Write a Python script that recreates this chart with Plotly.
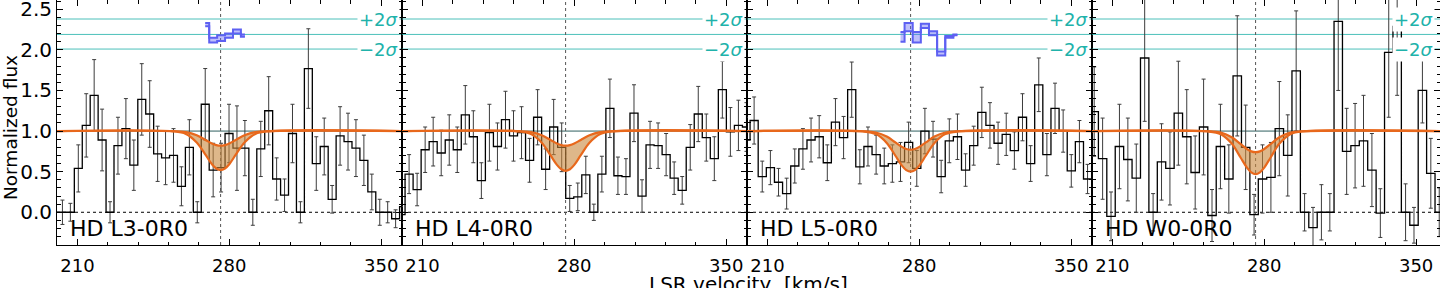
import numpy as np
import plotly.graph_objects as go

# ---------------- data ----------------
panel_labels = ["HD L3-0R0", "HD L4-0R0", "HD L5-0R0", "HD W0-0R0"]

# spectral pixel grid of each panel: first bin edge and bin width [km/s]
bin_start = [197.62, 198.31, 198.26, 199.67]
bin_width = [3.656, 3.702, 3.748, 3.879]

flux_L3 = [0.0, 0.0, 0.0, 0.54, 1.07, 1.44, 0.89, 0.0, 0.82, 1.03, 0.58, 1.39, 1.21, 0.72, 0.67,
           0.70, 0.32, 0.80, 0.0, 1.33, 0.52, 0.55, 0.97, 0.79, 0.79, 0.0, 0.78, 1.25, 0.41, 0.21,
           0.97, 0.0, 1.77, 0.60, 0.81, 0.16, 0.94, 0.87, 0.79, 0.64, 0.25, 0.0, 0.0, -0.08, 0.07]
err_L3 = [0.15, 0.15, 0.11, 0.29, 0.39, 0.44, 0.38, 0.13, 0.35, 0.37, 0.31, 0.44, 0.41, 0.34, 0.33,
          0.33, 0.24, 0.34, 0.13, 0.44, 0.33, 0.30, 0.36, 0.52, 0.34, 0.16, 0.34, 0.42, 0.26, 0.20,
          0.36, 0.13, 0.49, 0.33, 0.35, 0.17, 0.36, 0.35, 0.35, 0.31, 0.22, 0.16, 0.13, 0.11, 0.15]

flux_L4 = [-0.03, 0.47, 0.28, 0.77, 0.87, 0.73, 0.89, 0.77, 1.20, 0.93, 0.39, 0.98, 0.81, 1.14, 0.94,
           0.98, 0.64, 1.17, 0.53, 1.05, 0.80, 0.17, 0.19, 0.46, 0.0, 0.47, 1.28, 0.45, 0.44, 1.22,
           0.20, 0.83, 0.82, 0.71, 0.42, 0.27, 0.80, 1.21, 0.92, 0.66, 1.51, 0.99, 1.07, 1.05]
err_L4 = [0.10, 0.24, 0.20, 0.28, 0.30, 0.28, 0.31, 0.28, 0.36, 0.32, 0.22, 0.35, 0.29, 0.35, 0.31,
          0.32, 0.27, 0.34, 0.25, 0.34, 0.30, 0.16, 0.17, 0.23, 0.10, 0.22, 0.36, 0.23, 0.22, 0.35,
          0.20, 0.29, 0.28, 0.26, 0.20, 0.17, 0.28, 0.34, 0.29, 0.27, 0.35, 0.30, 0.31, 0.30]

flux_L5 = [0.89, 1.13, 0.44, 0.55, 0.37, 0.23, 0.57, 0.78, 0.89, 0.93, 0.61, 1.11, 0.92, 1.51, 0.56,
           0.81, 0.71, 0.57, 0.60, 0.62, 0.86, 0.54, 1.00, 0.90, 0.44, 0.88, 0.93, 0.52, 0.82, 1.23,
           1.07, 0.85, 0.96, 0.76, 1.17, 0.60, 1.57, 0.71, 1.28, 1.00, 0.51, 0.87, 0.41, 0.57]
err_L5 = [0.28, 0.29, 0.19, 0.21, 0.17, 0.19, 0.21, 0.25, 0.27, 0.26, 0.22, 0.29, 0.26, 0.34, 0.21,
          0.24, 0.24, 0.22, 0.23, 0.24, 0.25, 0.22, 0.28, 0.22, 0.20, 0.27, 0.28, 0.20, 0.24, 0.31,
          0.28, 0.26, 0.26, 0.23, 0.29, 0.22, 0.33, 0.26, 0.31, 0.26, 0.20, 0.26, 0.18, 0.20]

flux_W0 = [1.24, 0.66, -0.05, 0.81, 0.65, 0.42, 1.90, 0.0, 0.62, 0.54, 1.22, 0.93, 0.49, 1.05, -0.04,
           0.81, 0.41, 1.68, 0.80, -0.03, 0.41, 0.43, 1.03, 0.70, 1.74, 0.0, -0.19, 0.0, 0.0, 2.35,
           0.75, 0.82, 0.88, 0.52, -0.01, 1.97, 2.29, 0.0, -0.16, 1.50, 0.48, 0.0]
err_W0 = [0.55, 0.50, 0.30, 0.52, 0.51, 0.42, 0.78, 0.23, 0.47, 0.45, 0.64, 0.58, 0.45, 0.59, 0.32,
          0.52, 0.42, 0.74, 0.52, 0.25, 0.42, 0.43, 0.58, 0.50, 0.74, 0.23, 0.25, 0.34, 0.23, 0.85,
          0.53, 0.52, 0.56, 0.45, 0.30, 0.80, 0.85, 0.35, 0.22, 0.40, 0.43, 0.30]

# absorption model band (upper / lower envelope)
model_v = [200, 254, 260, 265, 269, 272, 274, 276, 278, 280, 283, 287, 292, 298, 362]
model_hi_L3 = [1, 0.999, 0.987, 0.948, 0.891, 0.847, 0.827, 0.82, 0.827, 0.847, 0.891, 0.948, 0.987, 0.999, 1]
model_lo_L3 = [1, 0.997, 0.965, 0.860, 0.709, 0.592, 0.539, 0.52, 0.539, 0.592, 0.709, 0.860, 0.965, 0.997, 1]
model_hi_L4 = [1, 0.999, 0.987, 0.948, 0.891, 0.847, 0.827, 0.82, 0.827, 0.847, 0.891, 0.948, 0.987, 0.999, 1]
model_lo_L4 = [1, 0.997, 0.964, 0.857, 0.703, 0.584, 0.530, 0.51, 0.530, 0.584, 0.703, 0.857, 0.964, 0.997, 1]
model_hi_L5 = [1, 0.998, 0.983, 0.933, 0.860, 0.805, 0.779, 0.77, 0.779, 0.805, 0.860, 0.933, 0.983, 0.998, 1]
model_lo_L5 = [1, 0.996, 0.963, 0.854, 0.696, 0.575, 0.520, 0.50, 0.520, 0.575, 0.696, 0.854, 0.963, 0.996, 1]
model_hi_W0 = [1, 0.998, 0.981, 0.924, 0.842, 0.779, 0.750, 0.74, 0.750, 0.779, 0.842, 0.924, 0.981, 0.998, 1]
model_lo_W0 = [1, 0.996, 0.961, 0.846, 0.678, 0.550, 0.491, 0.47, 0.491, 0.550, 0.678, 0.846, 0.961, 0.996, 1]

# blue significance steps (only L3 and L5)
blue_v_L3 = [268.9, 272.6, 276.2, 279.9, 283.5, 287.2]
blue_hi_L3 = [2.33, 2.15, 2.18, 2.20, 2.25, 2.19]
blue_lo_L3 = [2.29, 2.09, 2.11, 2.15, 2.20, 2.16]
blue_v_L5 = [271.35, 275.10, 278.85, 282.59, 286.34, 290.09, 293.84, 297.59]
blue_hi_L5 = [2.22, 2.33, 2.22, 2.32, 2.23, 1.98, 2.17, 2.19]
blue_lo_L5 = [2.10, 2.23, 2.09, 2.27, 2.18, 1.93, 2.15, 2.18]

sig_plus, sig_mid, sig_minus = 2.38, 2.19, 2.01
v_center = 276.0

x_ticks = [210, 280, 350]
y_ticks = [0.0, 0.5, 1.0, 1.5, 2.0, 2.5]

# ---------------- figure ----------------
fluxes = [flux_L3, flux_L4, flux_L5, flux_W0]
errs = [err_L3, err_L4, err_L5, err_W0]
model_hi = [model_hi_L3, model_hi_L4, model_hi_L5, model_hi_W0]
model_lo = [model_lo_L3, model_lo_L4, model_lo_L5, model_lo_W0]
blues = {0: (blue_v_L3, blue_hi_L3, blue_lo_L3), 2: (blue_v_L5, blue_hi_L5, blue_lo_L5)}

FONT = "DejaVu Sans"
PW = 1383.0
doms = [(0, 345 / PW), (345 / PW, 690 / PW), (690 / PW, 1035 / PW), (1035 / PW, 1.0)]
xranges = [[200.6, 359.6], [200.6, 359.6], [200.6, 359.6], [200.6, 361.0]]
yrange = [-0.403, 2.614]

ORANGE = "#e8681c"
TEAL = "#20b2aa"

fig = go.Figure()
shapes = []
annotations = []

for i in range(4):
    sx = "" if i == 0 else str(i + 1)
    xa, ya = "x" + sx, "y" + sx
    fl = np.array(fluxes[i])
    n = len(fl)
    edges = bin_start[i] + bin_width[i] * np.arange(n + 1)
    centers = 0.5 * (edges[:-1] + edges[1:])

    # error bars
    fig.add_trace(go.Scatter(
        x=centers, y=fl, mode="markers", xaxis=xa, yaxis=ya,
        marker=dict(size=1, color="rgba(0,0,0,0)"),
        error_y=dict(type="data", array=errs[i], visible=True, color="#3c3c3c",
                     thickness=1, width=2),
        showlegend=False, hoverinfo="skip"))
    # step histogram
    fig.add_trace(go.Scatter(
        x=edges, y=np.append(fl, fl[-1]), mode="lines", line_shape="hv",
        xaxis=xa, yaxis=ya, line=dict(color="black", width=1.3),
        showlegend=False, hoverinfo="skip"))
    # model band
    fig.add_trace(go.Scatter(
        x=model_v, y=model_hi[i], mode="lines", line_shape="spline",
        xaxis=xa, yaxis=ya, line=dict(color=ORANGE, width=2.2),
        showlegend=False, hoverinfo="skip"))
    fig.add_trace(go.Scatter(
        x=model_v, y=model_lo[i], mode="lines", line_shape="spline",
        xaxis=xa, yaxis=ya, line=dict(color=ORANGE, width=2.2),
        fill="tonexty", fillcolor="rgba(200,135,60,0.6)",
        showlegend=False, hoverinfo="skip"))
    # blue steps
    if i in blues:
        bv, bh, bl = blues[i]
        fig.add_trace(go.Scatter(
            x=bv, y=bh, mode="lines", line_shape="hvh", xaxis=xa, yaxis=ya,
            line=dict(color="#5d60f2", width=2), showlegend=False, hoverinfo="skip"))
        fig.add_trace(go.Scatter(
            x=bv, y=bl, mode="lines", line_shape="hvh", xaxis=xa, yaxis=ya,
            line=dict(color="#5d60f2", width=2), fill="tonexty",
            fillcolor="rgba(93,96,242,0.4)", showlegend=False, hoverinfo="skip"))

    x0, x1 = xranges[i]
    for yv in (sig_plus, sig_mid, sig_minus):
        shapes.append(dict(type="line", xref=xa, yref=ya, x0=x0, x1=x1, y0=yv, y1=yv,
                           line=dict(color=TEAL, width=1), layer="below", opacity=0.8))
    shapes.append(dict(type="line", xref=xa, yref=ya, x0=x0, x1=x1, y0=1.0, y1=1.0,
                       line=dict(color="#2f5f5f", width=1), layer="below"))
    shapes.append(dict(type="line", xref=xa, yref=ya, x0=x0, x1=x1, y0=0, y1=0,
                       line=dict(color="black", width=1, dash="dot"), layer="below"))
    shapes.append(dict(type="line", xref=xa, yref=ya, x0=v_center, x1=v_center,
                       y0=yrange[0], y1=yrange[1],
                       line=dict(color="#555555", width=1, dash="dot"), layer="below"))

    annotations.append(dict(xref=xa, yref=ya, x=205.7, y=-0.195, text=panel_labels[i],
                            showarrow=False, xanchor="left", yanchor="middle",
                            font=dict(family=FONT, size=22, color="black")))
    annotations.append(dict(xref=xa, yref=ya, x=358.7, y=sig_plus, text="+2<i>σ</i>",
                            showarrow=False, xanchor="right", yanchor="middle",
                            bgcolor="white", borderpad=1,
                            font=dict(family=FONT, size=18, color=TEAL)))
    annotations.append(dict(xref=xa, yref=ya, x=358.7, y=sig_minus, text="−2<i>σ</i>",
                            showarrow=False, xanchor="right", yanchor="middle",
                            bgcolor="white", borderpad=1,
                            font=dict(family=FONT, size=18, color=TEAL)))

    fig.layout["xaxis" + sx] = dict(
        domain=list(doms[i]), range=xranges[i], anchor=ya, automargin=False,
        tickmode="array", tickvals=x_ticks, ticks="inside", ticklen=6, tickwidth=1,
        tickcolor="black",
        minor=dict(tickmode="linear", tick0=210, dtick=14, ticks="inside", ticklen=3.5,
                   tickcolor="black", showgrid=False),
        showline=True, linecolor="black", linewidth=1, mirror="ticks",
        showgrid=False, zeroline=False,
        tickfont=dict(family=FONT, size=18, color="black"), ticklabelstandoff=4)
    fig.layout["yaxis" + sx] = dict(
        domain=[0, 1], range=yrange, anchor=xa, automargin=False,
        tickmode="array", tickvals=y_ticks, tickformat=".1f",
        showticklabels=(i == 0), ticks="inside", ticklen=6, tickwidth=1, tickcolor="black",
        minor=dict(tickmode="linear", tick0=0, dtick=0.1, ticks="inside", ticklen=3.5,
                   tickcolor="black", showgrid=False),
        showline=True, linecolor="black", linewidth=1, mirror="ticks",
        showgrid=False, zeroline=False, ticklabeloverflow="allow",
        tickfont=dict(family=FONT, size=20, color="black"))

annotations.append(dict(xref="paper", yref="paper", x=0.4998, y=-0.158,
                        text="LSR velocity, [km/s]", showarrow=False,
                        xanchor="center", yanchor="middle",
                        font=dict(family=FONT, size=20, color="black")))
annotations.append(dict(xref="paper", yref="paper", x=-0.0335, y=0.48,
                        text="Normalized flux", showarrow=False, textangle=-90,
                        xanchor="center", yanchor="middle",
                        font=dict(family=FONT, size=18.5, color="black")))

fig.update_layout(
    width=1440, height=288,
    margin=dict(l=57, r=0, t=0, b=43, autoexpand=False),
    paper_bgcolor="white", plot_bgcolor="white",
    shapes=shapes, annotations=annotations,
    showlegend=False, font=dict(family=FONT),
)

fig.write_html("out.html",
               config={"displayModeBar": False, "staticPlot": True},
               post_script="document.body.style.margin='0';document.body.style.overflow='hidden';")
